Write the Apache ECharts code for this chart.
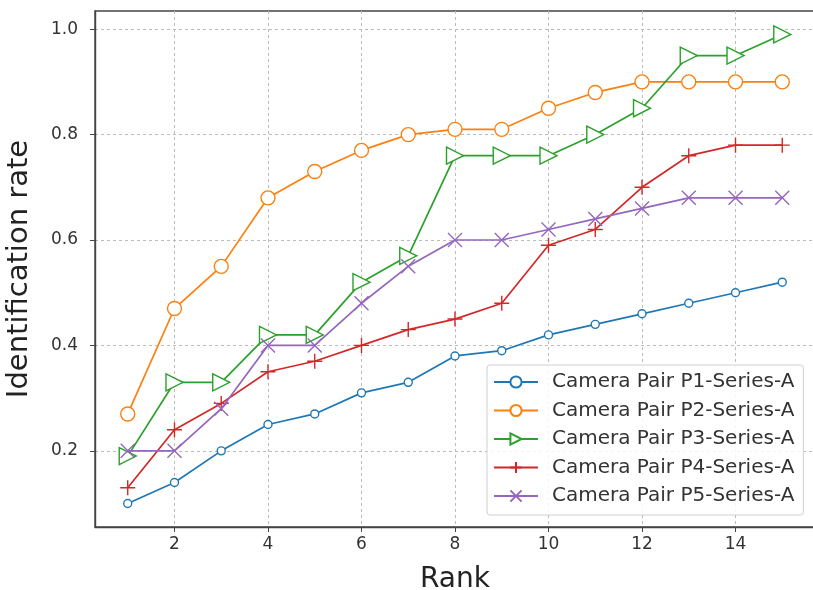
<!DOCTYPE html>
<html>
<head>
<meta charset="utf-8">
<script src="https://cdn.jsdelivr.net/npm/echarts@6/dist/echarts.min.js"></script>
<style>html,body{margin:0;padding:0;background:#fff;}#c{width:813px;height:590px;}</style>
</head>
<body>
<div id="c"></div>
<script>
const ranks = [1,2,3,4,5,6,7,8,9,10,11,12,13,14,15];
const xTicks = [2,4,6,8,10,12,14];
const yTicks = [0.2,0.4,0.6,0.8,1.0];
const seriesNames = ['Camera Pair P1-Series-A','Camera Pair P2-Series-A','Camera Pair P3-Series-A','Camera Pair P4-Series-A','Camera Pair P5-Series-A'];
const p1 = [0.10,0.14,0.20,0.25,0.27,0.31,0.33,0.38,0.39,0.42,0.44,0.46,0.48,0.50,0.52];
const p2 = [0.27,0.47,0.55,0.68,0.73,0.77,0.80,0.81,0.81,0.85,0.88,0.90,0.90,0.90,0.90];
const p3 = [0.19,0.33,0.33,0.42,0.42,0.52,0.57,0.76,0.76,0.76,0.80,0.85,0.95,0.95,0.99];
const p4 = [0.13,0.24,0.29,0.35,0.37,0.40,0.43,0.45,0.48,0.59,0.62,0.70,0.76,0.78,0.78];
const p5 = [0.20,0.20,0.28,0.40,0.40,0.48,0.55,0.60,0.60,0.62,0.64,0.66,0.68,0.68,0.68];

const colors = ['#1f77b4','#ff7f0e','#2ca02c','#d62728','#9467bd'];
const symbols = [
  'circle',
  'circle',
  'path://M0,0 L10,5 L0,10 Z',
  'path://M5,0 L5,10 M0,5 L10,5',
  'path://M0,0 L10,10 M10,0 L0,10'
];
const sizes = [8, 14, 17, 15, 14];
const data = [p1,p2,p3,p4,p5];

const chart = echarts.init(document.getElementById('c'));
const series = data.map((vals, i) => ({
  name: seriesNames[i],
  type: 'line',
  data: ranks.map((r, j) => [r, vals[j]]),
  symbol: symbols[i],
  symbolSize: sizes[i],
  showAllSymbol: true,
  lineStyle: { color: colors[i], width: 1.7 },
  itemStyle: {
    color: (i === 3 || i === 4) ? 'rgba(0,0,0,0)' : '#fff',
    borderColor: colors[i],
    borderWidth: 1.4
  },
  emphasis: { disabled: true },
  z: 2 + i
}));

chart.setOption({
  animation: false,
  backgroundColor: '#fff',
  color: colors,
  grid: { left: 95, top: 11, right: -2, bottom: 63, outerBoundsMode: 'none', containLabel: false, show: true, borderColor: '#444', borderWidth: 1.4, backgroundColor: 'transparent' },
  legend: {
    orient: 'vertical',
    left: 487, top: 365,
    itemWidth: 44, itemHeight: 14, itemGap: 8.5,
    padding: [7, 9, 9, 6],
    backgroundColor: 'rgba(255,255,255,0.85)',
    borderColor: '#d0d0d0', borderWidth: 1, borderRadius: 3,
    textStyle: { fontFamily: 'DejaVu Sans', fontSize: 20, lineHeight: 20, color: '#333', padding: [0, 0, 0, 9] },
    data: seriesNames
  },
  xAxis: {
    type: 'value', min: 0.3, max: 15.7,
    name: 'Rank', nameLocation: 'middle', nameGap: 39,
    nameTextStyle: { fontFamily: 'DejaVu Sans', fontSize: 28, color: '#222' },
    axisLine: { show: true, lineStyle: { color: '#444', width: 1.4 } },
    axisTick: { show: true, length: 5, customValues: xTicks, lineStyle: { color: '#444' } },
    axisLabel: { customValues: xTicks, fontFamily: 'DejaVu Sans', fontSize: 17, color: '#333', margin: 9 },
    splitLine: { show: true, customValues: xTicks, lineStyle: { color: '#bbb', type: [3, 3], width: 1 } }
  },
  yAxis: {
    type: 'value', min: 0.0555, max: 1.0345,
    name: 'Identification rate', nameLocation: 'middle', nameGap: 61,
    nameTextStyle: { fontFamily: 'DejaVu Sans', fontSize: 29, color: '#222' },
    axisLine: { show: true, lineStyle: { color: '#444', width: 1.4 } },
    axisTick: { show: true, length: 5, customValues: yTicks, lineStyle: { color: '#444' } },
    axisLabel: { customValues: yTicks, fontFamily: 'DejaVu Sans', fontSize: 17, color: '#333', margin: 17, formatter: v => v.toFixed(1) },
    splitLine: { show: true, customValues: yTicks, lineStyle: { color: '#bbb', type: [3, 3], width: 1 } }
  },
  series: series
});
</script>
</body>
</html>
